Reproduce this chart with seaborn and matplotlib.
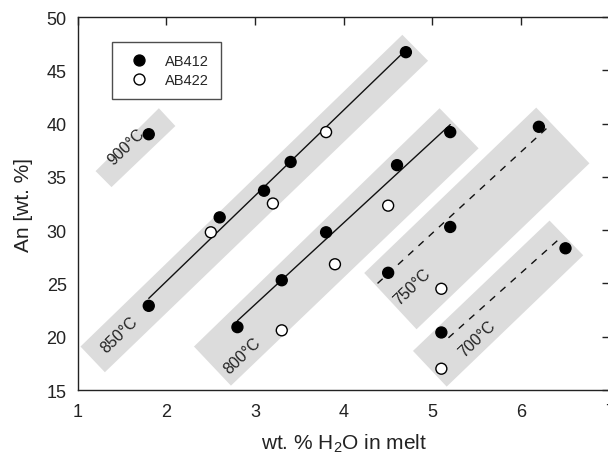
import numpy as np
import pandas as pd
import matplotlib
matplotlib.use("Agg")
import matplotlib.pyplot as plt
from matplotlib.patches import Polygon
import seaborn as sns

# Measured plagioclase An content vs. melt water content
ab412_h2o = [1.8, 1.8, 2.6, 3.1, 3.4, 4.7, 2.8, 3.3, 3.8, 4.6, 5.2, 4.5, 5.2, 6.2, 5.1, 6.5]
ab412_an = [39.0, 22.9, 31.2, 33.7, 36.4, 46.7, 20.9, 25.3, 29.8, 36.1, 39.2, 26.0, 30.3, 39.7, 20.4, 28.3]
ab422_h2o = [2.5, 3.2, 3.8, 3.3, 3.9, 4.5, 5.1, 5.1]
ab422_an = [29.8, 32.5, 39.2, 20.6, 26.8, 32.3, 24.5, 17.0]

# Isothermal trend lines (x range, y range)
trend_names = ["850", "800", "750", "700"]
trend_x = [[1.8, 4.65], [2.8, 5.2], [4.38, 6.3], [5.18, 6.46]]
trend_y = [[23.6, 46.5], [21.5, 39.9], [25.0, 39.65], [19.9, 29.4]]
trend_dashed = [False, False, True, True]

# Temperature fields (rotated bands, corners in data units)
band_corners = [
    [(1.20, 35.54), (1.914, 41.44), (2.10, 39.77), (1.38, 34.04)],
    [(1.03, 19.08), (4.66, 48.33), (4.95, 45.89), (1.305, 16.67)],
    [(2.31, 19.08), (5.08, 41.44), (5.52, 37.68), (2.727, 15.41)],
    [(4.23, 25.98), (6.17, 41.5), (6.77, 36.27), (4.82, 20.7)],
    [(4.78, 18.67), (6.32, 30.9), (6.70, 27.64), (5.16, 15.32)],
]
band_labels = ["900°C", "850°C", "800°C", "750°C", "700°C"]
label_pos = [(1.55, 37.9), (1.47, 20.2), (2.85, 18.3), (4.77, 24.7), (5.50, 19.9)]

df = pd.DataFrame({
    "h2o": ab412_h2o + ab422_h2o,
    "an": ab412_an + ab422_an,
    "sample": ["AB412"] * len(ab412_h2o) + ["AB422"] * len(ab422_h2o),
})

sns.set_theme(style="white")
plt.rcParams["font.family"] = ["Liberation Sans", "DejaVu Sans"]
plt.rcParams["mathtext.fontset"] = "custom"
plt.rcParams["mathtext.rm"] = "Liberation Sans"
plt.rcParams["mathtext.it"] = "Liberation Sans:italic"
plt.rcParams["mathtext.bf"] = "Liberation Sans:bold"

fig = plt.figure(figsize=(6.08, 4.56), dpi=100)
ax = fig.add_axes([0.128, 0.1425, 0.875, 0.818])

for corners in band_corners:
    ax.add_patch(Polygon(corners, closed=True, facecolor="#dcdcdc",
                         edgecolor="none", zorder=0))

for xs, ys, dashed in zip(trend_x, trend_y, trend_dashed):
    sns.lineplot(x=xs, y=ys, ax=ax, color="#111111", lw=1.0,
                 linestyle=(0, (5, 5)) if dashed else "-", zorder=2)

sns.scatterplot(data=df, x="h2o", y="an", hue="sample",
                palette={"AB412": "black", "AB422": "white"},
                edgecolor="black", linewidth=1.0, s=62, ax=ax, zorder=3)

for text, (lx, ly) in zip(band_labels, label_pos):
    ax.text(lx, ly, text, rotation=44, ha="center", va="center",
            fontsize=11.5, color="#222222", rotation_mode="anchor")

ax.set_xlim(1, 7)
ax.set_ylim(15, 50)
ax.set_xticks(range(1, 8))
ax.set_yticks(range(15, 51, 5))
ax.tick_params(direction="in", top=True, right=True, length=6, width=1,
               color="#222222", labelsize=13, labelcolor="#222222")
ax.tick_params(axis="x", pad=9)
ax.tick_params(axis="y", pad=8)
for sp in ax.spines.values():
    sp.set_color("#222222")
    sp.set_linewidth(1.0)

ax.set_xlabel(r"wt. % H$_\mathrm{2}$O in melt", fontsize=15, color="#222222", labelpad=9)
ax.set_ylabel("An [wt. %]", fontsize=15, color="#222222", labelpad=10)

leg = ax.legend(loc="upper left", bbox_to_anchor=(0.064, 0.933), borderaxespad=0,
                fontsize=10.5, frameon=True, fancybox=False, edgecolor="#222222",
                handletextpad=0.8, borderpad=0.85, labelspacing=0.3,
                handlelength=2.0)
leg.get_frame().set_linewidth(1.0)
for h in leg.legend_handles:
    h.set_markeredgecolor("black")

fig.savefig("out.png", dpi=100, facecolor="white")
